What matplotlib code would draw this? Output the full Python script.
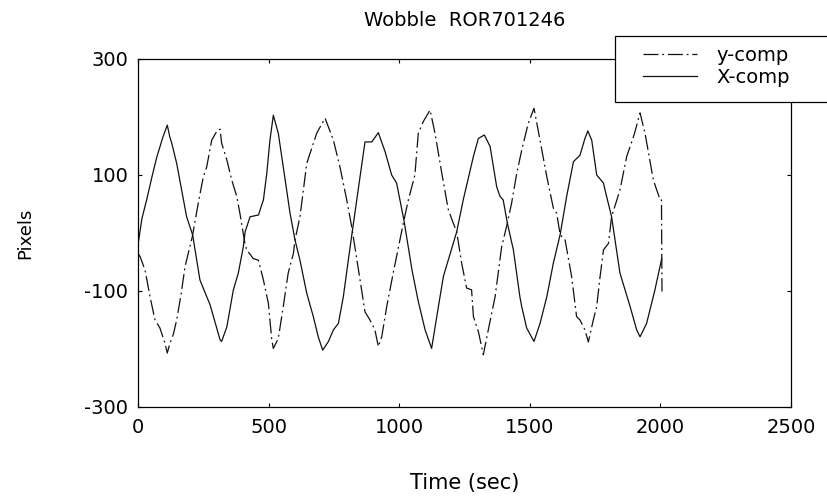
import matplotlib
matplotlib.use("Agg")
import matplotlib.pyplot as plt
from matplotlib.patches import Rectangle

plt.rcParams["font.family"] = ["DejaVu Sans"]
plt.rcParams["axes.unicode_minus"] = False

# x-comp (solid)
t_x = [0, 15, 33, 55, 72, 95, 112, 122, 129, 148, 167, 186, 209, 237, 276, 314,
       320, 340, 365, 384, 403, 410, 429, 461, 480, 493, 505, 518, 537, 556, 582,
       601, 620, 646, 671, 690, 707, 729, 748, 767, 786, 805, 822, 850, 869, 895,
       920, 946, 971, 990, 1018, 1049, 1072, 1099, 1124, 1150, 1169, 1220, 1245,
       1284, 1303, 1326, 1348, 1373, 1386, 1398, 1414, 1437, 1462, 1469, 1488,
       1516, 1539, 1565, 1590, 1616, 1641, 1667, 1692, 1711, 1722, 1737, 1756,
       1782, 1788, 1813, 1845, 1884, 1909, 1922, 1947, 1979, 2005]
v_x = [-20, 25, 57, 100, 131, 165, 186, 165, 155, 120, 74, 28, -3, -81, -124, -184,
       -187, -162, -98, -69, -24, 2, 28, 31, 57, 103, 160, 203, 172, 114, 34,
       -12, -47, -104, -144, -179, -202, -187, -167, -156, -110, -47, 8, 97, 157, 157,
       173, 140, 100, 86, 22, -64, -116, -167, -199, -127, -75, 2, 57,
       132, 163, 169, 149, 80, 63, 57, 17, -29, -110, -127, -164,
       -187, -156, -110, -52, -3, 63, 123, 134, 163, 176, 160, 100,
       86, 74, 28, -69, -127, -167, -179, -156, -98, -44]

# y-comp (dash-dot)
t_y = [0, 8, 27, 46, 65, 84, 103, 112, 122, 135, 148, 165, 180, 208, 230, 250,
       263, 282, 301, 314, 320, 340, 359, 378, 390, 410, 416, 441, 461, 480, 499,
       512, 518, 537, 556, 575, 595, 601, 620, 646, 684, 716, 748, 773, 799, 818,
       850, 869, 888, 907, 920, 933, 952, 977, 1018, 1035, 1060, 1073, 1092, 1118,
       1137, 1163, 1188, 1207, 1220, 1239, 1258, 1277, 1284, 1303, 1322, 1341,
       1367, 1392, 1414, 1430, 1450, 1469, 1494, 1516, 1539, 1565, 1590, 1603,
       1616, 1635, 1660, 1679, 1692, 1711, 1724, 1743, 1756, 1769, 1782, 1801,
       1813, 1845, 1871, 1890, 1901, 1922, 1941, 1973, 1999, 2004, 2006]
v_y = [-35, -41, -64, -110, -150, -164, -190, -207, -190, -175, -150, -105, -58, -6, 50, 97,
       114, 160, 175, 179, 155, 126, 91, 63, 34, -20, -29, -44, -47, -81, -121,
       -184, -199, -182, -127, -69, -35, -12, 28, 120, 172, 198, 160, 114, 57, 11,
       -81, -136, -150, -167, -196, -179, -127, -69, 22, 57, 100, 172, 192, 212,
       172, 103, 40, 17, 2, -52, -95, -98, -144, -170, -210, -167,
       -110, -24, 17, 51, 103, 143, 189, 215, 160, 97, 43, 34,
       -3, -12, -75, -144, -150, -167, -188, -150, -127, -75, -29, -18,
       28, 74, 132, 157, 172, 207, 172, 91, 57, 57, -101]

x_ticks = [0, 500, 1000, 1500, 2000, 2500]
y_ticks = [-300, -100, 100, 300]

fig = plt.figure(figsize=(8.27, 4.97), dpi=100)
ax = fig.add_axes([0.1669, 0.1811, 0.7896, 0.7002])

ax.plot(t_y, v_y, color="#111111", lw=0.9, dashes=(12, 3, 1.5, 3), label="y-comp")
ax.plot(t_x, v_x, color="#111111", lw=0.9, label="X-comp")

ax.set_xlim(0, 2500)
ax.set_ylim(-300, 300)
ax.set_xticks(x_ticks)
ax.set_yticks(y_ticks)
ax.tick_params(direction="in", length=3, width=0.8, top=True, right=True,
               labelsize=14)
ax.tick_params(axis="x", pad=8)
ax.tick_params(axis="y", pad=7)
for s in ax.spines.values():
    s.set_linewidth(0.9)

ax.set_title("Wobble  ROR701246", fontsize=14, pad=24)
ax.set_xlabel("Time (sec)", fontsize=15)
ax.xaxis.set_label_coords(0.5, -0.19)
ax.set_ylabel("Pixels", fontsize=13)
ax.yaxis.set_label_coords(-0.159, 0.5)

# legend box sticks out past the top right corner of the axes
box = Rectangle((0.7437, 0.7948), 0.27, 0.1328, transform=fig.transFigure,
                facecolor="white", edgecolor="black", lw=0.9, zorder=5)
fig.patches.append(box)
leg = fig.legend(loc="upper left", bbox_to_anchor=(0.777, 0.907),
                 frameon=False, fontsize=14, handlelength=2.8,
                 handletextpad=1.0, labelspacing=0.12, borderpad=0,
                 borderaxespad=0)
leg.set_zorder(6)

fig.savefig("out.png", dpi=100)
